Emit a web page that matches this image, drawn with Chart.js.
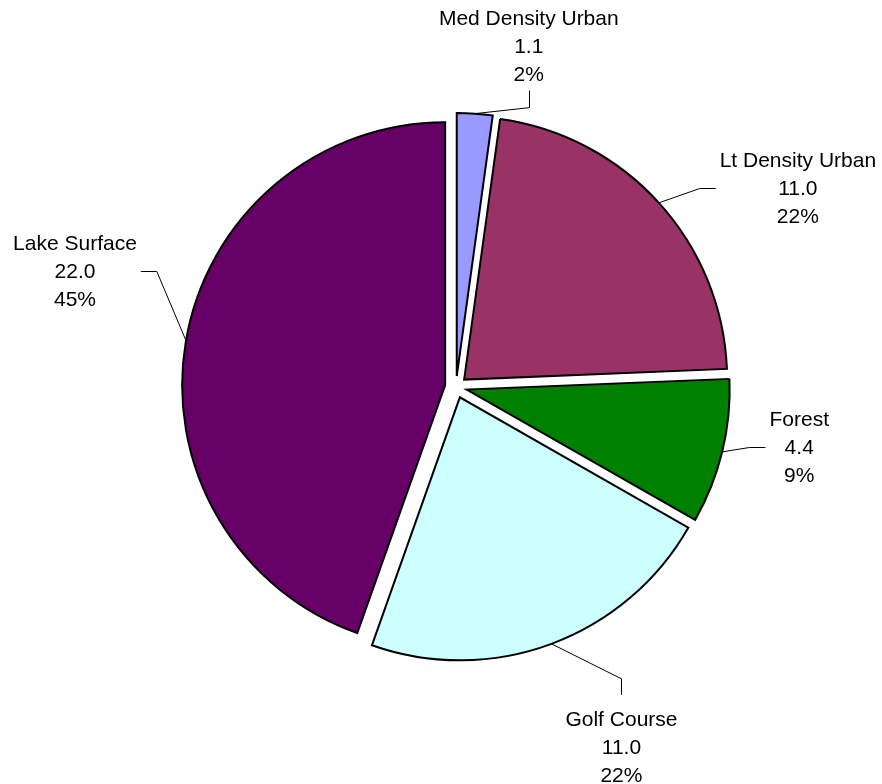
<!DOCTYPE html>
<html>
<head>
<meta charset="utf-8">
<title>Land use</title>
<script src="https://cdn.jsdelivr.net/npm/chart.js@4/dist/chart.umd.min.js"></script>
<style>
  html, body { margin: 0; padding: 0; background: #fff; }
  canvas { display: block; }
</style>
</head>
<body>
<canvas id="landUse" width="882" height="784"></canvas>
<script>
const categories = ['Med Density Urban', 'Lt Density Urban', 'Forest', 'Golf Course', 'Lake Surface'];
const acres = [1.08, 10.96, 4.4, 10.96, 22.04];
const sliceColors = ['#9999ff', '#993366', '#008000', '#ccffff', '#660066'];

// label block position, relative to the rim point at the middle of each slice
// dx/dy point at the centre of the middle text line's baseline
const labelLayout = [
	{dx: 54, dy: -61, side: 'bottom'},
	{dx: 139, dy: -8, side: 'left'},
	{dx: 77, dy: 2, side: 'left'},
	{dx: 70, dy: 110, side: 'top'},
	{dx: -111, dy: -63, side: 'right'}
];

const EXPLODE = 11;
const RADIUS = 263;
const LINE_H = 28;
const FONT = '21px "Liberation Sans", Arial, sans-serif';

// arc that is pushed out from the centre along its own middle angle
class ExplodedArc extends Chart.ArcElement {
	draw(ctx) {
		const mid = (this.startAngle + this.endAngle) / 2;
		ctx.save();
		ctx.translate(Math.cos(mid) * EXPLODE, Math.sin(mid) * EXPLODE);
		super.draw(ctx);
		ctx.restore();
	}
}
ExplodedArc.id = 'explodedArc';

class ExplodedPie extends Chart.PieController {}
ExplodedPie.id = 'explodedPie';
ExplodedPie.defaults = {dataElementType: 'explodedArc'};

Chart.register(ExplodedArc, ExplodedPie);

const sliceLabels = {
	id: 'sliceLabels',
	afterDatasetsDraw(chart) {
		const ctx = chart.ctx;
		const arcs = chart.getDatasetMeta(0).data;
		const total = acres.reduce((a, b) => a + b, 0);
		ctx.save();
		ctx.font = FONT;
		ctx.fillStyle = '#000';
		ctx.strokeStyle = '#000';
		ctx.lineWidth = 1;
		ctx.textAlign = 'center';
		ctx.textBaseline = 'alphabetic';
		arcs.forEach(function (arc, i) {
			const mid = (arc.startAngle + arc.endAngle) / 2;
			const r = arc.outerRadius + EXPLODE;
			const px = arc.x + Math.cos(mid) * r;
			const py = arc.y + Math.sin(mid) * r;
			const lay = labelLayout[i];
			const cx = px + lay.dx;
			const by = py + lay.dy;
			const lines = [categories[i], acres[i].toFixed(1), Math.round(acres[i] / total * 100) + '%'];
			const w = Math.max(...lines.map(t => ctx.measureText(t).width));
			lines.forEach(function (t, k) {
				ctx.fillText(t, cx, by + (k - 1) * LINE_H);
			});

			let end, elbow;
			if (lay.side === 'left') {
				end = [cx - w / 2 - 4, Math.round(by - 7) + 0.5];
				elbow = [end[0] - 16, end[1]];
			} else if (lay.side === 'right') {
				end = [cx + w / 2 + 4, Math.round(by - 7) + 0.5];
				elbow = [end[0] + 16, end[1]];
			} else if (lay.side === 'bottom') {
				end = [Math.round(cx) + 0.5, by + LINE_H + 10];
				elbow = [end[0], end[1] + 17];
			} else {
				end = [Math.round(cx) + 0.5, by - LINE_H - 31];
				elbow = [end[0], end[1] - 16];
			}
			ctx.beginPath();
			ctx.moveTo(px, py);
			ctx.lineTo(elbow[0], elbow[1]);
			ctx.lineTo(end[0], end[1]);
			ctx.stroke();
		});
		ctx.restore();
	}
};

new Chart(document.getElementById('landUse'), {
	type: 'explodedPie',
	data: {
		labels: categories,
		datasets: [{
			data: acres,
			backgroundColor: sliceColors,
			borderColor: '#000',
			borderWidth: 2,
			borderJoinStyle: 'miter'
		}]
	},
	options: {
		responsive: false,
		animation: false,
		events: [],
		radius: RADIUS,
		layout: {padding: {left: 30, right: 0, top: 0, bottom: 10}},
		plugins: {
			legend: {display: false},
			tooltip: {enabled: false}
		}
	},
	plugins: [sliceLabels]
});
</script>
</body>
</html>
